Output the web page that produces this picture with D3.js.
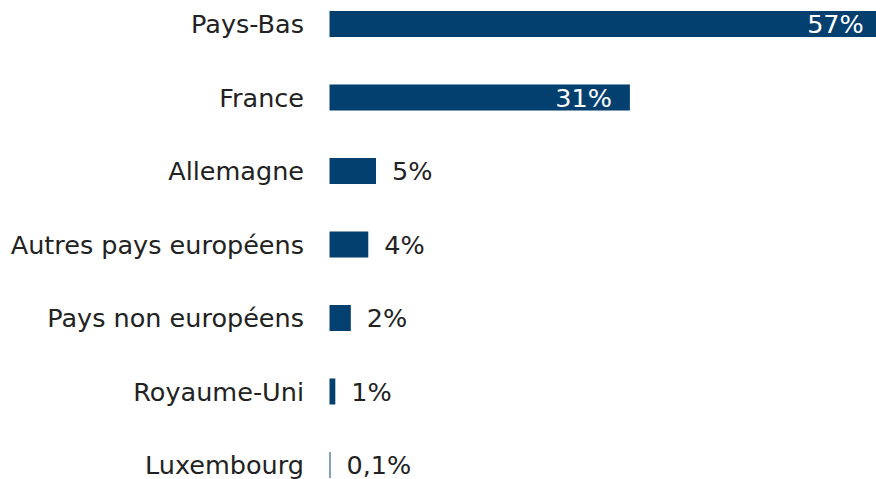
<!DOCTYPE html>
<html>
<head>
<meta charset="utf-8">
<script src="https://cdn.jsdelivr.net/npm/d3@7"></script>
<style>
  body { margin: 0; background: #fff; }
  svg { display: block; }
  text { font-family: "DejaVu Sans", sans-serif; }
</style>
</head>
<body>
<script>

// categories top to bottom
const categories = ["Pays-Bas", "France", "Allemagne", "Autres pays européens", "Pays non européens", "Royaume-Uni", "Luxembourg"];
// shares in %
const values = [57, 31, 4.8, 4.0, 2.2, 0.6, 0.1];
// labels as printed
const valueLabels = ["57%", "31%", "5%", "4%", "2%", "1%", "0,1%"];

let width = 876;
let height = 479;

let svg = d3.select("body")
    .append("svg")
    .attr("width", width)
    .attr("height", height)

// 31% ends around x=630, Pays-Bas runs a little past the right edge
let xScale = d3.scaleLinear()
    .domain([0, 60])
    .range([329.5, 329.5 + 60 * 9.69])

let yScale = d3.scaleBand()
    .domain(categories)
    .range([-12.75, 501.75])
    .paddingInner(0.646)
    .paddingOuter(0.323)

let rows = categories.map((c, i) => ({ cat: c, value: values[i], label: valueLabels[i] }))

// bars
svg.selectAll("rect.bar")
    .data(rows)
    .enter()
    .append("rect")
    .attr("class", "bar")
    .attr("x", xScale(0))
    .attr("y", (d) => yScale(d.cat))
    .attr("width", (d) => xScale(d.value) - xScale(0))
    .attr("height", yScale.bandwidth())
    .style("fill", "#033f6f")

// category labels
svg.selectAll("text.cat")
    .data(rows)
    .enter()
    .append("text")
    .attr("class", "cat")
    .attr("x", 304)
    .attr("y", (d) => yScale(d.cat) + yScale.bandwidth() / 2)
    .attr("dy", "0.36em")
    .attr("text-anchor", "end")
    .style("font-size", "25.5px")
    .style("fill", "#222")
    .text((d) => d.cat)

// value labels, inside the two long bars
svg.selectAll("text.val")
    .data(rows)
    .enter()
    .append("text")
    .attr("class", "val")
    .attr("x", (d) => d.value > 20 ? xScale(d.value) - 18 : xScale(d.value) + 16)
    .attr("y", (d) => yScale(d.cat) + yScale.bandwidth() / 2)
    .attr("dy", "0.36em")
    .attr("text-anchor", (d) => d.value > 20 ? "end" : "start")
    .style("font-size", "25.5px")
    .style("fill", (d) => d.value > 20 ? "#fff" : "#222")
    .text((d) => d.label)

</script>
</body>
</html>
